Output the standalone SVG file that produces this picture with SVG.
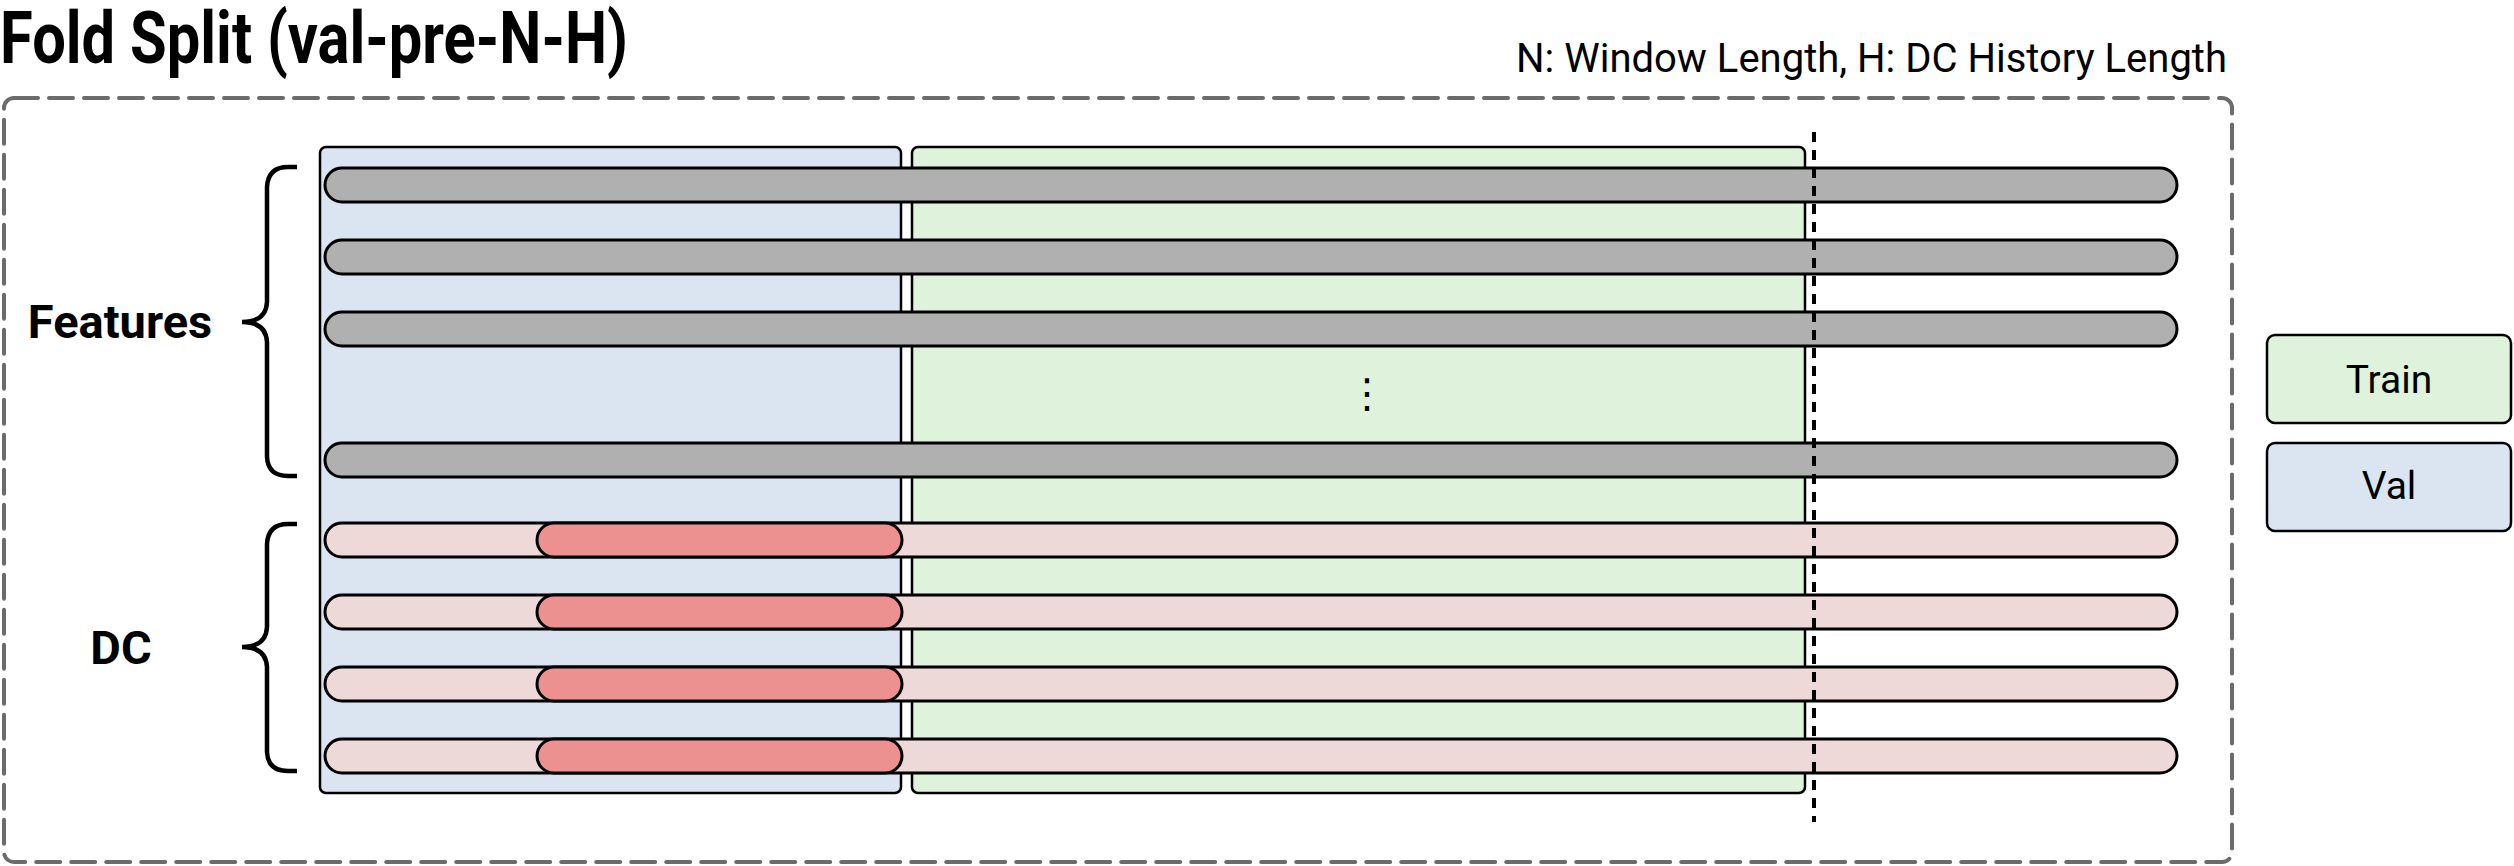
<svg xmlns="http://www.w3.org/2000/svg" width="2514" height="866" viewBox="0 0 2514 866">
<style>
text{font-family:Roboto,"Liberation Sans",sans-serif;fill:#000}
.title{font-size:72px;font-weight:700}
.sub{font-size:40px}
.lbl{font-size:47px;font-weight:700;text-anchor:middle}
.leg{font-size:39px;text-anchor:middle}
.val{fill:#dae5f1;stroke:#000;stroke-width:2.5}
.train{fill:#dff2db;stroke:#000;stroke-width:2.5}
.gray{fill:#b0b0b0;stroke:#000;stroke-width:3}
.pink{fill:#eed9d9;stroke:#000;stroke-width:3}
.red{fill:#ec9090;stroke:#000;stroke-width:3}
.brace{fill:none;stroke:#000;stroke-width:4.5}
</style>
<rect width="2514" height="866" fill="#fff"/>
<g id="title">
<text class="title" x="0" y="63" textLength="628" lengthAdjust="spacingAndGlyphs">Fold Split (val-pre-N-H)</text>
<text class="sub" x="2227" y="72" text-anchor="end">N: Window Length, H: DC History Length</text>
</g>
<g id="frame">
<rect x="4" y="98" width="2228" height="764" rx="10" fill="none" stroke="#6b6b6b" stroke-width="4" stroke-dasharray="24 11" stroke-linecap="round"/>
</g>
<g id="val-region"><rect class="val" x="320" y="147" width="581" height="646" rx="6"/></g>
<g id="train-region"><rect class="train" x="912" y="147" width="893" height="646" rx="6"/></g>
<g id="features">
<rect class="gray" x="325" y="168" width="1852" height="34" rx="17"/>
<rect class="gray" x="325" y="240" width="1852" height="34" rx="17"/>
<rect class="gray" x="325" y="312" width="1852" height="34" rx="17"/>
<rect class="gray" x="325" y="443" width="1852" height="34" rx="17"/>
<text x="1367" y="407" font-size="40" text-anchor="middle" style="font-family:'DejaVu Sans',sans-serif">⋮</text>
</g>
<g id="dc">
<rect class="pink" x="325" y="523" width="1852" height="34" rx="17"/>
<rect class="red" x="537" y="523" width="365" height="34" rx="17"/>
<rect class="pink" x="325" y="595" width="1852" height="34" rx="17"/>
<rect class="red" x="537" y="595" width="365" height="34" rx="17"/>
<rect class="pink" x="325" y="667" width="1852" height="34" rx="17"/>
<rect class="red" x="537" y="667" width="365" height="34" rx="17"/>
<rect class="pink" x="325" y="739" width="1852" height="34" rx="17"/>
<rect class="red" x="537" y="739" width="365" height="34" rx="17"/>
</g>
<g id="connectors">
<line x1="1814" y1="132" x2="1814" y2="822" stroke="#000" stroke-width="4" stroke-dasharray="10 8"/>
</g>
<g id="features-brace">
<path class="brace" d="M297,167 L288,167 Q268,167 267,187 L267,302 Q266,322 242,322 Q266,322 267,342 L267,457 Q268,476 288,476 L297,476"/>
<text class="lbl" x="120" y="338">Features</text>
</g>
<g id="dc-brace">
<path class="brace" d="M297,524 L288,524 Q268,524 267,544 L267,627 Q266,647 242,647 Q266,647 267,667 L267,752 Q268,771 288,771 L297,771"/>
<text class="lbl" x="121" y="664">DC</text>
</g>
<g id="legend-train">
<rect class="train" x="2267" y="335" width="244" height="88" rx="8" stroke-width="3"/>
<text class="leg" x="2389" y="393">Train</text>
</g>
<g id="legend-val">
<rect class="val" x="2267" y="443" width="244" height="88" rx="8" stroke-width="3"/>
<text class="leg" x="2389" y="499">Val</text>
</g>
</svg>
